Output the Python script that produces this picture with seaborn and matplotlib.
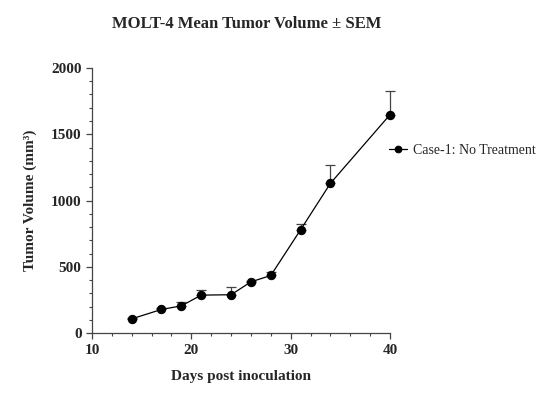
import matplotlib
matplotlib.use("Agg")
import matplotlib.pyplot as plt
from matplotlib.ticker import MultipleLocator
import seaborn as sns
import pandas as pd

days = [14, 17, 19, 21, 24, 26, 28, 31, 34, 40]
volume = [108, 179, 206, 287, 290, 387, 435, 780, 1130, 1648]
sem = [8, 10, 28, 37, 60, 10, 28, 40, 135, 176]
series_name = "Case-1: No Treatment"

sns.set_style("ticks")
plt.rcParams['font.family'] = ['Liberation Serif', 'DejaVu Serif']

df = pd.DataFrame({"Day": days, "Volume": volume, "Group": series_name})

fig = plt.figure(figsize=(5.44, 4.17), dpi=100)
ax = fig.add_axes([0.169, 0.201, 0.548, 0.636])

ax.errorbar(days, volume, yerr=[[0] * len(sem), sem], fmt='none',
            ecolor='#444444', elinewidth=0.9, capsize=3.5, capthick=0.9, zorder=2,
            clip_on=False)
sns.lineplot(data=df, x="Day", y="Volume", hue="Group", palette=["black"],
             marker="o", markersize=6, linewidth=0.9, markeredgecolor="black",
             ax=ax, zorder=3, clip_on=False)

ax.set_xlim(10, 40)
ax.set_ylim(0, 2000)
ax.xaxis.set_major_locator(MultipleLocator(10))
ax.xaxis.set_minor_locator(MultipleLocator(2))
ax.yaxis.set_major_locator(MultipleLocator(500))
ax.yaxis.set_minor_locator(MultipleLocator(100))
for side in ["top", "right"]:
    ax.spines[side].set_visible(False)
for side in ["left", "bottom"]:
    ax.spines[side].set_color("#444444")
    ax.spines[side].set_linewidth(0.9)
ax.tick_params(which="major", length=4, width=0.9, color="#444444", labelsize=11)
ax.tick_params(which="minor", length=2.5, width=0.8, color="#444444")
for lab in ax.get_xticklabels() + ax.get_yticklabels():
    lab.set_fontweight("bold")

ax.set_xlabel("Days post inoculation", fontsize=11, fontweight="bold", labelpad=10)
ax.set_ylabel("Tumor Volume (mm³)", fontsize=11, fontweight="bold", labelpad=10)
ax.set_title("MOLT-4 Mean Tumor Volume ± SEM", fontsize=12, fontweight="bold",
             pad=29, x=0.52)

leg = ax.legend(loc="center left", bbox_to_anchor=(0.715, 0.640),
                bbox_transform=fig.transFigure, frameon=False,
                fontsize=10, handlelength=1.3, handletextpad=0.4,
                borderpad=0, borderaxespad=0, markerscale=0.8)

fig.savefig("out.png", dpi=100)
